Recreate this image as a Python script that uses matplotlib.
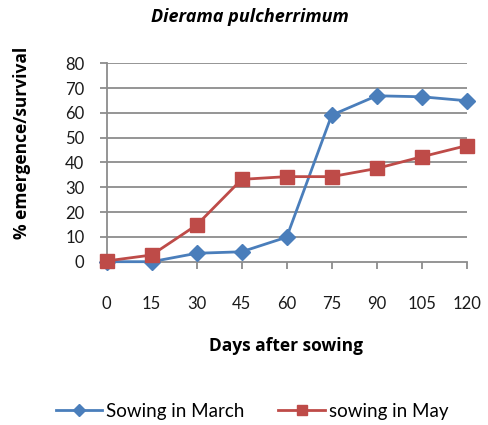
import matplotlib
matplotlib.use("Agg")
import matplotlib.pyplot as plt

plt.rcParams['font.family'] = ['Lato', 'DejaVu Sans']

days = [0, 15, 30, 45, 60, 75, 90, 105, 120]
march = [0, 0, 3.4, 4.0, 9.9, 59.1, 66.9, 66.5, 64.9]
may = [0.3, 2.7, 14.8, 33.2, 34.3, 34.3, 37.6, 42.3, 46.8]
yticks = [0, 10, 20, 30, 40, 50, 60, 70, 80]

W, H = 488, 425
fig = plt.figure(figsize=(W/100, H/100), dpi=100)
ax = fig.add_axes([106.7/W, 1-261.7/H, (466.7-106.7)/W, (261.7-63.3)/H])

grid_c = '#8c8c8c'
for y in yticks[1:]:
    ax.axhline(y, color=grid_c, lw=1.3, zorder=0)

ax.plot(days, march, color='#4a7ebb', lw=2, marker='D', ms=8,
        markeredgecolor='#4a7ebb', label='Sowing in March', zorder=3, clip_on=False)
ax.plot(days, may, color='#be4b48', lw=2, marker='s', ms=9.5,
        markeredgecolor='#be4b48', label='sowing in May', zorder=3, clip_on=False)

ax.set_xlim(0, 120)
ax.set_ylim(0, 80)
ax.set_xticks(days)
ax.set_xticklabels([str(d) for d in days])
ax.set_yticks(yticks)
for s in ['top', 'right']:
    ax.spines[s].set_visible(False)
for s in ['left', 'bottom']:
    ax.spines[s].set_color(grid_c)
    ax.spines[s].set_linewidth(1.3)
ax.tick_params(axis='x', length=5, width=1.3, color=grid_c, pad=20, labelsize=12, labelcolor='#1a1a1a')
ax.tick_params(axis='y', length=5, width=1.3, color=grid_c, pad=11, labelsize=12, labelcolor='#1a1a1a')

bold_fam = ['Open Sans', 'DejaVu Sans']
fig.text(250/W, 1-17/H, 'Dierama pulcherrimum', ha='center', va='center',
         fontsize=13, fontweight='bold', fontstyle='italic', family=bold_fam)
fig.text(286/W, 1-346/H, 'Days after sowing', ha='center', va='center',
         fontsize=12.5, fontweight='bold', family=bold_fam)
fig.text(22/W, 1-143/H, '% emergence/survival', ha='center', va='center',
         rotation=90, fontsize=12.5, fontweight='bold', family=bold_fam)

fig.legend(loc='center', bbox_to_anchor=(252/W, 1-411/H), ncol=2, frameon=False,
           fontsize=13.5, handlelength=2.5, columnspacing=1.8, handletextpad=0.2,
           markerscale=0.8)

fig.savefig('out.png', dpi=100)
